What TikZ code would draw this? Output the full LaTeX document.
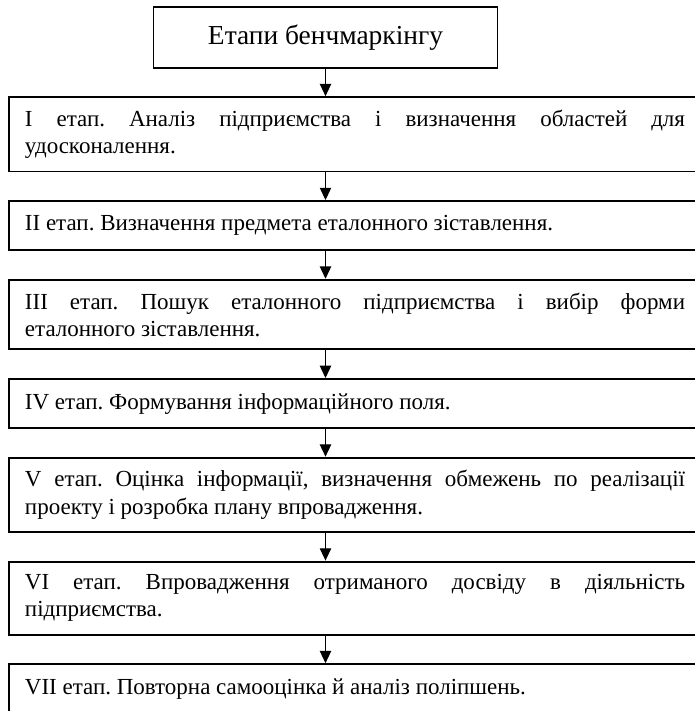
\documentclass[tikz,border=0pt]{standalone}
\usepackage{fontspec}
\setmainfont{Liberation Serif}
\usepackage{tikz}
\usetikzlibrary{arrows.meta, positioning}
\hyphenpenalty=10000
\exhyphenpenalty=10000
\frenchspacing
\tikzstyle{title} = [rectangle, minimum width=182pt, minimum height=32pt, text centered, draw=black, line width=0.8pt, font=\fontsize{14.5}{16}\selectfont]
\tikzstyle{stage} = [rectangle, text width=348.9pt, align=justify, inner xsep=8.5pt, inner ysep=6.8pt, minimum height=26pt, draw=black, line width=1pt]
\tikzstyle{arrow} = [line width=0.6pt, -{Triangle[width=6pt,length=6.5pt]}]

\begin{document}
\begin{tikzpicture}[x=0.5286pt, y=0.5286pt, node distance=14.6pt, font=\fontsize{12.15}{14.4}\selectfont]
    \clip (0,0) rectangle (695,-711);
    \node (title) [title] at (325.5,-37.5) {Етапи бенчмаркінгу};

    \node (s1) [stage, below=of title, xshift=15.6pt] {I етап. Аналіз підприємства і визначення областей для удосконалення.};
    \node (s2) [stage, below=of s1] {II етап. Визначення предмета еталонного зіставлення.};
    \node (s3) [stage, below=of s2] {III етап. Пошук еталонного підприємства і вибір форми\linebreak еталонного зіставлення.};
    \node (s4) [stage, below=of s3] {IV етап. Формування інформаційного поля.};
    \node (s5) [stage, below=of s4] {V етап. Оцінка інформації, визначення обмежень по реалізації проекту і розробка плану впровадження.};
    \node (s6) [stage, below=of s5] {VI етап. Впровадження отриманого досвіду в діяльність підприємства.};
    \node (s7) [stage, below=of s6] {VII етап. Повторна самооцінка й аналіз поліпшень.};

    \draw [arrow] (title) -- (title |- s1.north);
    \draw [arrow] (s1.south -| title) -- (s2.north -| title);
    \draw [arrow] (s2.south -| title) -- (s3.north -| title);
    \draw [arrow] (s3.south -| title) -- (s4.north -| title);
    \draw [arrow] (s4.south -| title) -- (s5.north -| title);
    \draw [arrow] (s5.south -| title) -- (s6.north -| title);
    \draw [arrow] (s6.south -| title) -- (s7.north -| title);
\end{tikzpicture}
\end{document}
